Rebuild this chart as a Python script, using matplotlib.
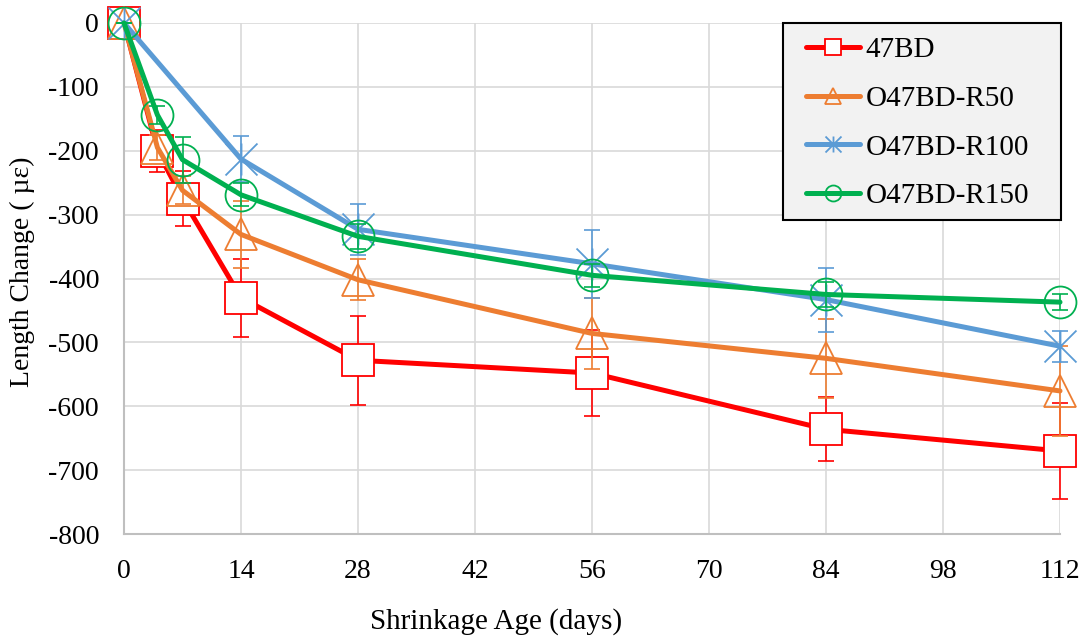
import matplotlib
matplotlib.use("Agg")
import matplotlib.pyplot as plt
from matplotlib.path import Path
from matplotlib.patches import Rectangle

plt.rcParams['font.family'] = ['Liberation Serif', 'DejaVu Serif']

# ---- data ----
days = [0, 4, 7, 14, 28, 56, 84, 112]
days_r100 = [0, 14, 28, 56, 84, 112]

bd47 = [0, -200, -275, -430, -528, -548, -636, -670]
bd47_err = [0, 33, 43, 61, 70, 67, 50, 75]

r50 = [0, -195, -262, -331, -402, -486, -525, -576]
r50_err = [0, 20, 22, 52, 32, 56, 62, 70]

r100 = [0, -213, -323, -377, -433, -506]
r100_err = [0, 36, 40, 53, 50, 24]

r150 = [0, -144, -214, -269, -334, -395, -425, -437]
r150_err = [0, 14, 36, 18, 20, 18, 20, 12]

labels = ['47BD', 'O47BD-R50', 'O47BD-R100', 'O47BD-R150']
colors = ['#FF0000', '#ED7D31', '#5B9BD5', '#00B050']
xticks = [0, 14, 28, 42, 56, 70, 84, 98, 112]
yticks = [0, -100, -200, -300, -400, -500, -600, -700, -800]

# Excel-style star marker: X plus vertical line
star = Path([(0, 0), (1, 1), (0, 0), (-1, 1), (0, 0), (1, -1), (0, 0), (-1, -1),
             (0, 0), (0, 1), (0, 0), (0, -1)],
            [Path.MOVETO, Path.LINETO] * 6)

W, H = 1085, 638
fig = plt.figure(figsize=(W / 100, H / 100), dpi=100)
ax = fig.add_axes([124 / W, 1 - 534 / H, (1060 - 124) / W, (534 - 23) / H])

series = [
    (days, bd47, bd47_err, 's', 'white'),
    (days, r50, r50_err, '^', 'none'),
    (days_r100, r100, r100_err, star, 'none'),
    (days, r150, r150_err, 'o', 'none'),
]

handles = []
for i, (x, y, e, m, fc) in enumerate(series):
    c = colors[i]
    ax.errorbar(x, y, yerr=e, fmt='none', ecolor=c, elinewidth=1.2,
                capsize=6, capthick=1.2, zorder=3 + 2 * i, clip_on=False)
    ln, = ax.plot(x, y, color=c, lw=3.6, marker=m, markersize=23,
                  markerfacecolor=fc, markeredgecolor=c, markeredgewidth=1.3,
                  zorder=4 + 2 * i, clip_on=False, label=labels[i],
                  solid_capstyle='round')
    handles.append(ln)

ax.set_xlim(0, 112)
ax.set_ylim(-800, 0)
ax.set_xticks(xticks)
ax.set_yticks(yticks)
ax.set_xticklabels([str(t) for t in xticks])
ax.set_yticklabels([str(t) for t in yticks])
ax.tick_params(axis='both', length=0, labelsize=20, colors='black')
ax.tick_params(axis='y', pad=18)
ax.tick_params(axis='x', pad=18)

ax.grid(True, color='#D9D9D9', lw=1.2, zorder=0)
ax.set_axisbelow(True)
for s in ['top', 'right']:
    ax.spines[s].set_visible(False)
for s in ['left', 'bottom']:
    ax.spines[s].set_color('#BFBFBF')
    ax.spines[s].set_linewidth(1.5)

ax.set_xlabel('Shrinkage Age (days)', fontsize=21)
ax.xaxis.set_label_coords((496 - 124) / (1060 - 124), -(622 - 534) / (534 - 23))
ax.xaxis.label.set_va('center')
ax.set_ylabel('Length Change ( µε)', fontsize=20)
ax.yaxis.set_label_coords(-(124 - 22) / (1060 - 124), (534 - 272) / (534 - 23))
ax.yaxis.label.set_va('center')

# legend frame drawn as a figure patch
frame = Rectangle((783 / W, 1 - 220 / H), (1061 - 783) / W, (220 - 23) / H,
                  transform=fig.transFigure, facecolor='#F2F2F2',
                  edgecolor='black', lw=1.5, zorder=5)
fig.patches.append(frame)

leg = fig.legend(handles=handles, labels=labels, loc='upper left',
                 bbox_to_anchor=(806 / W, 1 - 37 / H),
                 bbox_transform=fig.transFigure, fontsize=21,
                 markerscale=0.5, frameon=False,
                 borderaxespad=0, borderpad=0, labelspacing=0.76,
                 handlelength=1.85, handletextpad=0.2)
leg.set_zorder(6)

fig.savefig('out.png', dpi=100)
